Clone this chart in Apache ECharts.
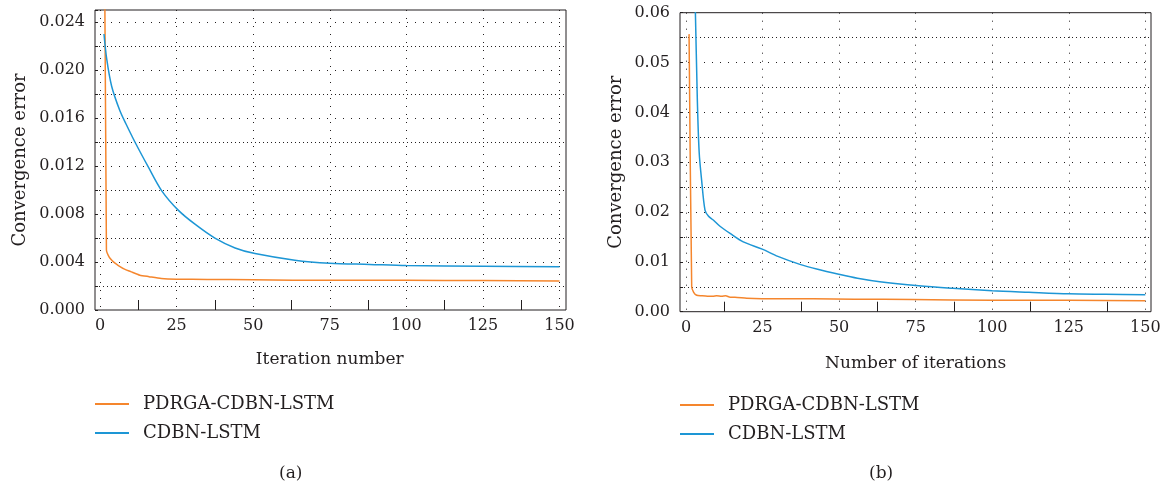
<!DOCTYPE html>
<html>
<head>
<meta charset="utf-8">
<script src="https://cdn.jsdelivr.net/npm/echarts@6/dist/echarts.min.js"></script>
<style>
html,body{margin:0;padding:0;background:#fff;}
#main{width:1165px;height:487px;}
</style>
</head>
<body>
<div id="main"></div>
<script>
// ---- data ----
const seriesNames = ['PDRGA-CDBN-LSTM', 'CDBN-LSTM'];
const xTicks = [0, 25, 50, 75, 100, 125, 150];
const yTicksA = [0.000, 0.004, 0.008, 0.012, 0.016, 0.020, 0.024];
const yTicksB = [0.00, 0.01, 0.02, 0.03, 0.04, 0.05, 0.06];

// (a) PDRGA-CDBN-LSTM  [iteration, error]
const pdrgaA = [[1,0.055],[2.1,0.0050],[3,0.0044],[4,0.0041],[4.9,0.0039],[6,0.0037],[8,0.0034],[10,0.0032],[13,0.0029],[16,0.00278],[20,0.00263],[25,0.00257],[35,0.00255],[50,0.00252],[63,0.00248],[75,0.00248],[100,0.00248],[125,0.00245],[150,0.00242]];
// (a) CDBN-LSTM
const cdbnA = [[1.3,0.0230],[2.2,0.0209],[3.8,0.01865],[6.5,0.01660],[8.5,0.0155],[11.4,0.01400],[15.8,0.01190],[20.1,0.00995],[25.6,0.00830],[31,0.00715],[37.5,0.00599],[44.1,0.00517],[50.6,0.00470],[63.6,0.00415],[75,0.0039],[88,0.0038],[100,0.0037],[125,0.00365],[150,0.0036]];
// (b) PDRGA-CDBN-LSTM
const pdrgaB = [[1,0.0557],[1.86,0.0050],[2.5,0.0039],[3.5,0.0033],[5,0.0032],[7,0.0031],[8.8,0.0031],[10,0.0032],[11.6,0.0031],[13,0.0032],[14.4,0.0029],[16,0.0029],[19.8,0.0027],[30,0.0026],[41.6,0.0026],[55,0.0025],[74,0.00245],[100,0.0023],[125,0.0023],[150,0.0022]];
// (b) CDBN-LSTM
const cdbnB = [[1,0.11],[2,0.085],[3,0.062],[3.7,0.0425],[4.3,0.032],[5.1,0.0264],[6.2,0.0204],[7.3,0.0192],[8.9,0.0184],[11,0.0172],[14.4,0.0157],[18.7,0.0140],[24.9,0.01255],[30,0.0111],[37.2,0.0095],[43,0.0085],[49.9,0.0075],[56,0.0067],[63.3,0.0060],[76,0.0052],[87,0.0047],[100,0.0042],[112,0.0039],[125,0.0036],[137,0.0035],[150,0.0034]];

const ORANGE = '#F5862D';
const BLUE = '#1D96D5';
const INK = '#231f20';
const FONT = 'DejaVu Serif';

const chart = echarts.init(document.getElementById('main'), null, {renderer: 'canvas'});

const A = {fl:95, ft:10, fw:471, fh:300, dl:100, dw:459.5, yMax:0.025, yInt:0.004, dig:3, ticks:yTicksA,
           dTop:46, dH:240, dMin:0.002, dMax:0.022, xName:'Iteration number', gapY:66, gapX:41};
const B = {fl:680, ft:12.7, fw:471, fh:299, dl:686, dw:459.3, yMax:0.06, yInt:0.01, dig:2, ticks:yTicksB,
           dTop:37.6, dH:249.2, dMin:0.005, dMax:0.055, xName:'Number of iterations', gapY:55, gapX:43};

const grids = [], xAxes = [], yAxes = [];
function addPanel(P) {
  const g0 = grids.length;
  // frame grid
  grids.push({left:P.fl, top:P.ft, width:P.fw, height:P.fh, show:true, borderColor:INK, borderWidth:1, backgroundColor:'transparent'});
  // data grid
  grids.push({left:P.dl, top:P.ft, width:P.dw, height:P.fh, show:false});
  // dense minor gridline grid
  grids.push({left:P.fl, top:P.dTop, width:P.fw, height:P.dH, show:false});

  const lastTick = P.ticks[P.ticks.length - 1];
  xAxes.push({gridIndex:g0, type:'value', min:0, max:1, show:false});
  yAxes.push({gridIndex:g0, type:'value', min:0, max:P.yMax, interval:P.yInt,
    name:'Convergence error', nameLocation:'middle', nameGap:P.gapY,
    nameTextStyle:{fontFamily:FONT, fontSize:18, color:INK},
    axisLine:{show:false}, axisTick:{show:true, inside:true, length:3, lineStyle:{color:INK}},
    axisLabel:{fontFamily:FONT, fontSize:16, color:INK, margin:10,
      formatter: v => (v <= lastTick + 1e-9) ? v.toFixed(P.dig) : ''},
    splitLine:{show:true, showMaxLine:false, showMinLine:false, lineStyle:{color:INK, width:1, type:[1,7]}}
  });

  xAxes.push({gridIndex:g0+1, type:'value', min:0, max:150, interval:25,
    name:P.xName, nameLocation:'middle', nameGap:P.gapX,
    nameTextStyle:{fontFamily:FONT, fontSize:17, color:INK},
    axisLine:{show:false}, axisTick:{show:false, inside:true},
    minorTick:{show:true, splitNumber:2, length:10, lineStyle:{color:INK, width:1}},
    axisLabel:{fontFamily:FONT, fontSize:16, color:INK, margin:8},
    splitLine:{show:true, lineStyle:{color:INK, width:1, type:[1,7]}}
  });
  yAxes.push({gridIndex:g0+1, type:'value', min:0, max:P.yMax, show:false});

  xAxes.push({gridIndex:g0+2, type:'value', min:0, max:1, show:false});
  yAxes.push({gridIndex:g0+2, type:'value', min:P.dMin, max:P.dMax, interval:P.yInt,
    axisLine:{show:false}, axisTick:{show:true, inside:true, length:3, lineStyle:{color:INK}}, axisLabel:{show:false},
    splitLine:{show:true, lineStyle:{color:INK, width:1, type:[1,3]}}
  });
  return g0 + 1;
}
const ia = addPanel(A);
const ib = addPanel(B);

function line(name, data, color, idx, sm) {
  return {name, type:'line', data, xAxisIndex:idx, yAxisIndex:idx, showSymbol:false, symbol:'none',
          smooth:sm, clip:true, lineStyle:{color, width:1.5}, itemStyle:{color}, z:5, animation:false};
}

const legendCommon = {orient:'vertical', icon:'rect', itemWidth:34, itemHeight:2, itemGap:11, padding:0,
  textStyle:{fontFamily:FONT, fontSize:18, color:INK, lineHeight:18, padding:[0,0,0,9]}, selectedMode:false,
  data: seriesNames};

chart.setOption({
  animation:false,
  backgroundColor:'#fff',
  grid: grids,
  xAxis: xAxes,
  yAxis: yAxes,
  legend: [
    Object.assign({}, legendCommon, {left:95, top:395}),
    Object.assign({}, legendCommon, {left:680, top:396})
  ],
  graphic: [
    {type:'text', left:279, top:465, style:{text:'(a)', font:'17px "DejaVu Serif"', fill:INK}},
    {type:'text', left:869, top:465, style:{text:'(b)', font:'17px "DejaVu Serif"', fill:INK}}
  ],
  series: [
    line(seriesNames[0], pdrgaA, ORANGE, ia, 0.2),
    line(seriesNames[1], cdbnA, BLUE, ia, 0.3),
    line(seriesNames[0], pdrgaB, ORANGE, ib, 0.2),
    line(seriesNames[1], cdbnB, BLUE, ib, 0.3)
  ]
});
</script>
</body>
</html>
